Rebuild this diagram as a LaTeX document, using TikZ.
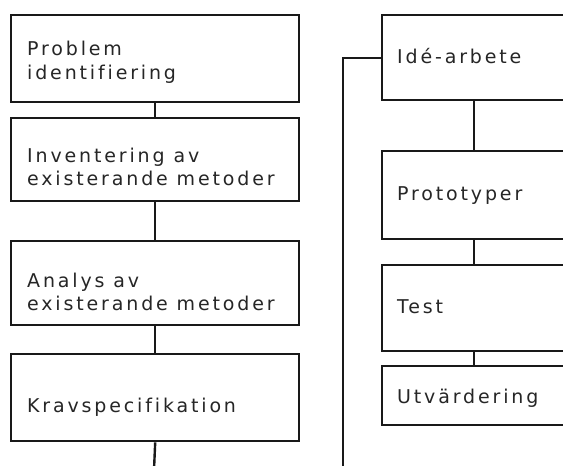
\documentclass[tikz,border=0pt]{standalone}
\usepackage{fontspec}
\setmainfont[LetterSpace=15,Ligatures=NoCommon]{DejaVu Sans}
\begin{document}
\begin{tikzpicture}[x=1pt,y=-1pt,
  box/.style={draw=black!90, line width=2.4pt, rectangle, inner sep=0pt, anchor=north west},
  lbl/.style={anchor=base west, inner sep=0pt, text=black!85, font=\fontsize{19}{22}\selectfont, align=left},
  conn/.style={draw=black!90, line width=2.4pt}]
\useasboundingbox (0,0) rectangle (563,466);
\clip (0,0) rectangle (563,466);
\fill[white] (0,0) rectangle (563,466);
% left column
\node[box, minimum width=288pt, minimum height=87pt] (b1) at (10,14) {};
\node[box, minimum width=288pt, minimum height=83pt] (b2) at (10,117) {};
\node[box, minimum width=288pt, minimum height=84pt] (b3) at (10,240) {};
\node[box, minimum width=288pt, minimum height=87pt] (b4) at (10,353) {};
\node[lbl] (t1a) at (27,55) {Problem};
\node[lbl] (t1b) at (27,79) {identifiering};
\node[lbl] (t2a) at (27,162) {Inventering av};
\node[lbl] (t2b) at (27,185) {existerande metoder};
\node[lbl] (t3a) at (27,287) {Analys av};
\node[lbl] (t3b) at (27,310) {existerande metoder};
\node[lbl] (t4) at (27,412) {Kravspecifikation};
% right column
\node[box, minimum width=184pt, minimum height=85pt] (r1) at (381,14) {};
\node[box, minimum width=184pt, minimum height=88pt] (r2) at (381,150) {};
\node[box, minimum width=184pt, minimum height=86pt] (r3) at (381,264) {};
\node[box, minimum width=184pt, minimum height=59pt] (r4) at (381,365) {};
\node[lbl] (s1) at (397,63) {Idé-arbete};
\node[lbl] (s2) at (397,200) {Prototyper};
\node[lbl] (s3) at (397,313) {Test};
\node[lbl] (s4) at (397,403) {Utvärdering};
% connectors
\coordinate (endL) at (154,470);
\coordinate (endR) at (343,470);
\draw[conn] (b1.south) -- (b2.north);
\draw[conn] (b2.south) -- (b3.north);
\draw[conn] (b3.south) -- (b4.north);
\draw[conn] (b4.south) -- (endL);
\draw[conn] (r1.south) -- (r2.north);
\draw[conn] (r2.south) -- (r3.north);
\draw[conn] (r3.south) -- (r4.north);
\draw[conn] (endR) |- (r1.west);
\end{tikzpicture}
\end{document}
